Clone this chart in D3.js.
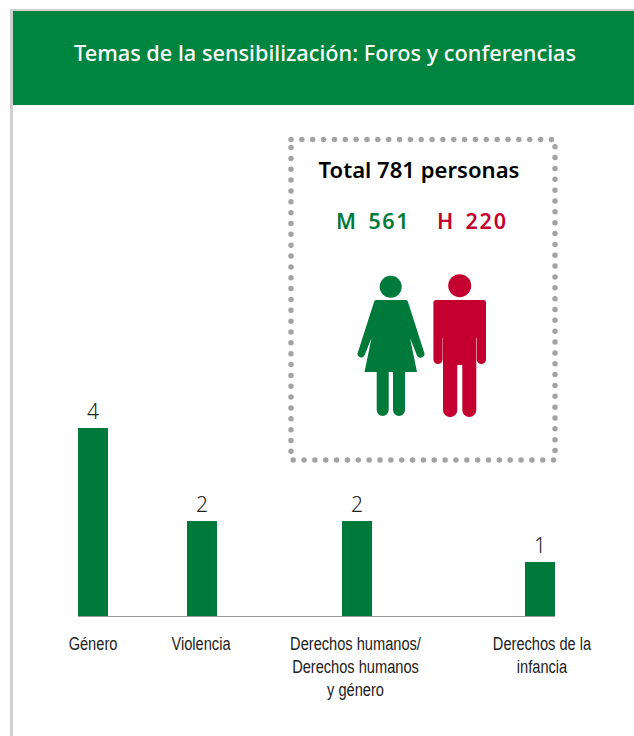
<!DOCTYPE html>
<html><head><meta charset="utf-8">
<style>html,body{margin:0;padding:0;background:#fff;overflow:hidden}svg{display:block}</style>
<script src="https://cdn.jsdelivr.net/npm/d3@7"></script></head>
<body><div id="c"></div>
<script>
const categories = ["Género","Violencia","Derechos humanos/|Derechos humanos|y género","Derechos de la|infancia"];
const values = [4,2,2,1];
const titleText = "Temas de la sensibilización: Foros y conferencias";
const totalText = "Total 781 personas";
const womenText = ["M","561"];
const menText = ["H","220"];
const GREEN="#007a3a", HEADER="#008540", RED="#c40030", GREY="#a3a3a3";

const svg=d3.select("#c").append("svg").attr("width",634).attr("height",736);
svg.append("rect").attr("width",634).attr("height",736).attr("fill","#fff");
// frame
svg.append("rect").attr("x",10).attr("y",9).attr("width",624).attr("height",727).attr("fill","#cfcfcf");
svg.append("rect").attr("x",13).attr("y",11).attr("width",621).attr("height",725).attr("fill","#fff");
svg.append("rect").attr("x",13).attr("y",11).attr("width",621).attr("height",94).attr("fill",HEADER);
svg.append("text").attr("x",325).attr("y",61).attr("text-anchor","middle").attr("fill","#fff")
  .attr("font-family","'Noto Sans'").attr("font-size",21).attr("font-weight",500)
  .attr("textLength",502).attr("lengthAdjust","spacingAndGlyphs").text(titleText);

// scales
const x=d3.scaleOrdinal().domain(categories).range([93,202,357,540]);
const labelX=d3.scaleOrdinal().domain(categories).range([93,201,355.5,542]);
const y=d3.scaleLinear().domain([0,1,2,4]).range([617,562,521,428]);
const barW=30;
svg.append("g").selectAll("rect").data(values).join("rect")
  .attr("x",(d,i)=>x(categories[i])-barW/2).attr("y",d=>y(d))
  .attr("width",barW).attr("height",d=>y(0)-y(d)).attr("fill",GREEN);
svg.append("line").attr("x1",78).attr("x2",555).attr("y1",616.5).attr("y2",616.5).attr("stroke","#999").attr("stroke-width",1);
svg.append("g").selectAll("text").data(values).join("text")
  .attr("x",(d,i)=>x(categories[i])).attr("y",d=>y(d)-9).attr("text-anchor","middle")
  .attr("font-family","'Noto Sans'").attr("font-size",21).attr("font-weight",300).attr("fill","#222").text(d=>d);
const labs=svg.append("g").attr("font-family","'Liberation Sans'").attr("font-size",19).attr("fill","#222");
categories.forEach(c=>{
  c.split("|").forEach((t,j)=>{
    labs.append("text").attr("transform",`translate(${labelX(c)},${649.5+j*23.2}) scale(0.77,1)`).attr("text-anchor","middle").text(t);
  });
});

// dotted box
svg.append("rect").attr("x",291).attr("y",139.5).attr("width",264).attr("height",320.5)
  .attr("fill","none").attr("stroke",GREY).attr("stroke-width",5.5).attr("stroke-linecap","round").attr("stroke-dasharray","0 10.85");
svg.append("text").attr("x",419).attr("y",178).attr("text-anchor","middle").attr("font-family","'Noto Sans'")
  .attr("font-size",21.5).attr("font-weight",600).attr("fill","#000")
  .attr("textLength",201).attr("lengthAdjust","spacingAndGlyphs").text(totalText);
const big=(t,xp,col,len)=>{const s=svg.append("text").attr("x",xp).attr("y",228.5).attr("font-family","'Noto Sans'")
  .attr("font-size",21.5).attr("font-weight",600).attr("fill",col).text(t);
  if(len)s.attr("textLength",len).attr("lengthAdjust","spacing");};
big(womenText[0],336,GREEN);big(womenText[1],368.5,GREEN,40);big(menText[0],437,RED);big(menText[1],465.5,RED,40.5);

// woman icon
const w=svg.append("g").attr("fill",GREEN);
w.append("circle").attr("cx",390.7).attr("cy",286.7).attr("r",11);
w.append("path").attr("d","M376,300H406Q407.5,300 408,302L424,352A3.6,3.6 0 0 1 417,355.5L410,338L417,372H364.5L371.5,338L364.5,355.5A3.6,3.6 0 0 1 358,352L374,302Q374.5,300 376,300Z");
w.append("path").attr("d","M376.7,370H388.7V410A6,6 0 0 1 376.7,410ZM393,370H405V410A6,6 0 0 1 393,410Z");
// man icon
const m=svg.append("g").attr("fill",RED);
m.append("circle").attr("cx",459.7).attr("cy",285.7).attr("r",11.5);
m.append("path").attr("d","M436,300H483.5A2.5,2.5 0 0 1 486,302.5V359.5A4.6,4.6 0 0 1 476.8,359.5V338H476.3V410A7,7 0 0 1 462.3,410V365H457.3V410A7.15,7.15 0 0 1 443,410V338H442.6V359.5A4.6,4.6 0 0 1 433.4,359.5V302.5A2.5,2.5 0 0 1 436,300Z");
</script></body></html>
